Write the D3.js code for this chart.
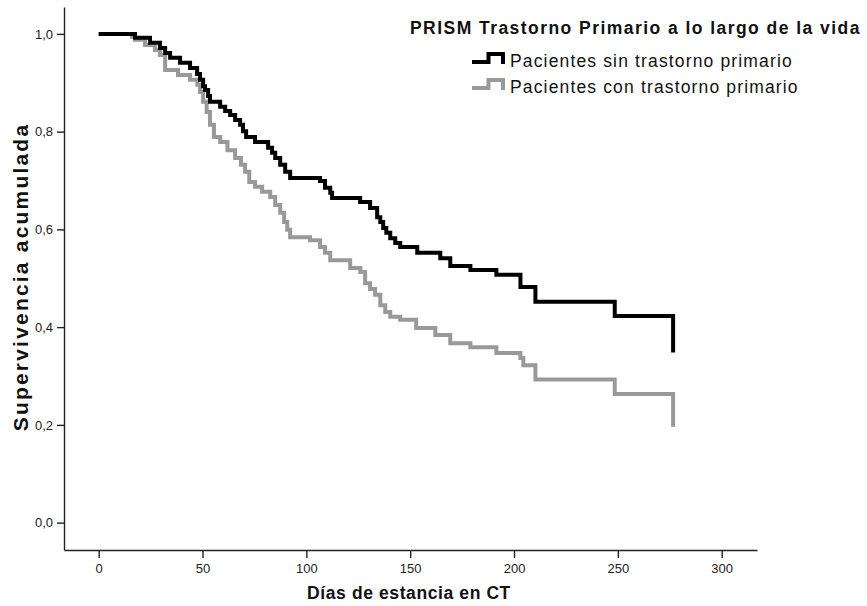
<!DOCTYPE html>
<html>
<head>
<meta charset="utf-8">
<script src="https://cdn.jsdelivr.net/npm/d3@7"></script>
<style>
  body { margin: 0; background: #fff; }
  svg { font-family: "Liberation Sans", Arial, Helvetica, sans-serif; }
  .axis text { font-size: 13px; fill: #222; }
  .axis line, .axis .domain { stroke: #222; stroke-width: 1.4px; }
  .title { font-weight: bold; fill: #111; }
  .km { fill: none; stroke-width: 4px; stroke-linejoin: miter; }
</style>
</head>
<body>
<svg id="chart" width="867" height="606"></svg>
<script>
// Kaplan-Meier steps: day of event and survival after it
const sinTiempos = [0, 17.5, 24.7, 29.5, 32, 34.4, 39.2, 44, 47.4, 48.8, 50.3, 51.2, 52.7, 53.6, 58.5, 60.9, 63.3, 65.7, 68.1, 69.5, 71, 75.3, 81.6, 83.5, 85, 87.4, 89.8, 92.2, 106.6, 109, 111.5, 112.4, 125.9, 130.7, 134.1, 135.6, 137, 138.5, 140.4, 142.8, 145.2, 153.4, 164.5, 169.3, 179, 191.5, 203.1, 210.3, 248.5, 276.6];
const sinSupervivencia = [1, 0.992, 0.982, 0.971, 0.961, 0.951, 0.941, 0.930, 0.918, 0.906, 0.893, 0.885, 0.873, 0.861, 0.851, 0.842, 0.834, 0.824, 0.814, 0.801, 0.789, 0.779, 0.767, 0.757, 0.746, 0.732, 0.718, 0.705, 0.699, 0.685, 0.675, 0.664, 0.656, 0.644, 0.625, 0.615, 0.603, 0.593, 0.582, 0.572, 0.564, 0.552, 0.541, 0.525, 0.517, 0.507, 0.482, 0.452, 0.423, 0.348];

const conTiempos = [0, 16, 17.5, 22.3, 27.1, 29.5, 32, 38.2, 44, 47.5, 48.8, 50.3, 52, 53.6, 55.5, 58.5, 62, 65.7, 68.5, 70.5, 72.5, 75.3, 78.7, 82.6, 85, 87.4, 89.3, 90.8, 92.2, 101.8, 106.6, 109, 111.5, 121.1, 126, 128.3, 130.7, 133.1, 135.6, 138, 140.4, 145.2, 152.9, 162.1, 169.3, 179, 191.5, 203.1, 204.5, 210.3, 248.5, 276.6];
const conSupervivencia = [1, 0.994, 0.988, 0.977, 0.967, 0.957, 0.926, 0.916, 0.906, 0.896, 0.881, 0.861, 0.840, 0.814, 0.789, 0.779, 0.762, 0.746, 0.732, 0.718, 0.697, 0.687, 0.677, 0.666, 0.650, 0.634, 0.615, 0.599, 0.584, 0.578, 0.564, 0.552, 0.537, 0.521, 0.513, 0.490, 0.478, 0.466, 0.445, 0.431, 0.421, 0.415, 0.398, 0.384, 0.367, 0.359, 0.347, 0.337, 0.322, 0.293, 0.263, 0.196];

const xTicks = [0, 50, 100, 150, 200, 250, 300];
const yTicks = [0, 0.2, 0.4, 0.6, 0.8, 1.0];
const seriesNames = ["Pacientes sin trastorno primario", "Pacientes con trastorno primario"];
const seriesColors = ["#000000", "#999999"];
const legendTitle = "PRISM Trastorno Primario a lo largo de la vida";
const xTitle = "Días de estancia en CT";
const yTitle = "Supervivencia acumulada";

const svg = d3.select("#chart");
const plot = {left: 64, right: 757, top: 7, bottom: 550};

const x = d3.scaleLinear().domain([-16.7, 317]).range([plot.left, plot.right]);
const y = d3.scaleLinear().domain([-0.056, 1.055]).range([plot.bottom, plot.top]);

const fmt = d => d3.format(".1f")(d).replace(".", ",");

svg.append("g")
    .attr("class", "x axis")
    .attr("transform", "translate(0," + plot.bottom + ")")
    .call(d3.axisBottom(x).tickValues(xTicks).tickSize(8).tickSizeOuter(0).tickPadding(6));

svg.append("g")
    .attr("class", "y axis")
    .attr("transform", "translate(" + plot.left + ",0)")
    .call(d3.axisLeft(y).tickValues(yTicks).tickFormat(fmt).tickSize(7).tickSizeOuter(0).tickPadding(4));

const line = d3.line()
    .x(d => x(d[0]))
    .y(d => y(d[1]))
    .curve(d3.curveStepAfter);

const series = [
    d3.zip(sinTiempos, sinSupervivencia),
    d3.zip(conTiempos, conSupervivencia)
];

// gray first so black sits on top
svg.selectAll("path.km")
    .data([1, 0])
    .enter()
    .append("path")
    .attr("class", "km")
    .attr("stroke", i => seriesColors[i])
    .attr("d", i => line(series[i]));

svg.append("text")
    .attr("class", "title")
    .attr("x", 409)
    .attr("y", 599)
    .attr("text-anchor", "middle")
    .style("font-size", "17.5px")
    .style("letter-spacing", "0.6px")
    .text(xTitle);

svg.append("text")
    .attr("class", "title")
    .attr("transform", "translate(28,277) rotate(-90)")
    .attr("text-anchor", "middle")
    .style("font-size", "21px")
    .style("letter-spacing", "2.2px")
    .text(yTitle);

// legend
const legend = svg.append("g").attr("class", "legend");
legend.append("text")
    .attr("class", "title")
    .attr("x", 410)
    .attr("y", 34)
    .style("font-size", "17.5px")
    .style("letter-spacing", "1.45px")
    .text(legendTitle);

const items = legend.selectAll("g.item")
    .data(seriesNames)
    .enter()
    .append("g")
    .attr("class", "item")
    .attr("transform", (d, i) => "translate(0," + (i * 26) + ")");

items.append("path")
    .attr("fill", "none")
    .attr("stroke-width", 4)
    .attr("stroke", (d, i) => seriesColors[i])
    .attr("d", "M472,62 H488.5 V54 H503 V64");

items.append("text")
    .attr("x", 510)
    .attr("y", 67)
    .style("font-size", "17.5px")
    .style("letter-spacing", "1.15px")
    .style("fill", "#111")
    .text(d => d);
</script>
</body>
</html>
